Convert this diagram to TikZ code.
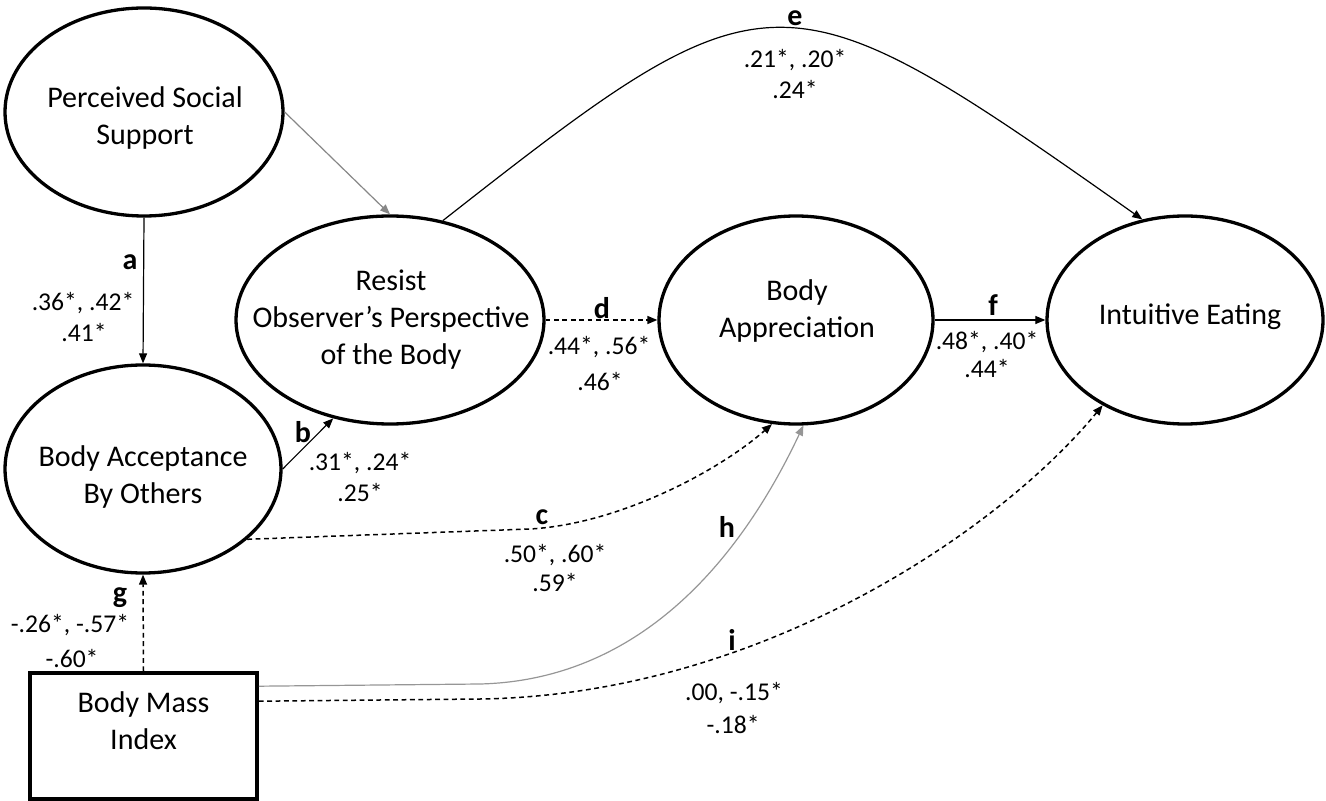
\documentclass[tikz,border=0pt]{standalone}
\usepackage{fontspec}
\setmainfont{Carlito}
\usetikzlibrary{arrows.meta,shapes.geometric}
\newcommand\myNodeFont{\fontsize{15pt}{18.5pt}\selectfont}
\newcommand\myNumFont{\fontsize{12.8pt}{15pt}\selectfont}
\newcommand\myLetFont{\fontsize{15pt}{16pt}\selectfont\bfseries}
\definecolor{grayA}{RGB}{135,135,135}
\definecolor{grayB}{RGB}{150,150,150}
\begin{document}
\begin{tikzpicture}[x=0.5pt,y=-0.5pt,
  lat/.style={ellipse,draw,line width=1.65pt,inner sep=0pt,minimum height=104pt},
  obs/.style={rectangle,draw,line width=1.8pt,inner sep=0pt,minimum width=113.5pt,minimum height=63pt},
  txt/.style={inner sep=0pt,align=center,font=\myNodeFont},
  num/.style={inner sep=0pt,font=\myNumFont},
  let/.style={inner sep=0pt,font=\myLetFont},
  arr/.style={-{Triangle[length=5pt,width=4pt]},line width=0.6pt},
  dsh/.style={line width=0.75pt,dash pattern=on 2.4pt off 1.8pt}]
\useasboundingbox (0,0) rectangle (1326,801);

% latent variables
\node[lat,minimum width=139pt] (pss) at (144,112) {};
\node[lat,minimum width=154pt] (resist) at (390,320) {};
\node[lat,minimum width=138pt] (bao) at (143,469) {};
\node[lat,minimum width=137pt] (ba) at (796,320) {};
\node[lat,minimum width=138pt] (ie) at (1185,320) {};
\node[obs] (bmi) at (143.5,736) {};

% texts
\node[txt] (psst) at (145,118) {Perceived Social\\Support};
\node[txt] (resistt) at (391,320) {Resist\\Observer’s Perspective\\of the Body};
\node[txt] (baot) at (143,477) {Body Acceptance\\By Others};
\node[txt] (bat) at (797,311) {Body\\Appreciation};
\node[txt] (iet) at (1190,317) {Intuitive Eating};
\node[txt] (bmit) at (143.5,721) {Body Mass\\Index};

% connectors
\draw[arr,grayA] (pss.east) -- (resist.north);
\draw[arr] (pss.south) -- (bao.north);
\draw[arr] (bao.east) -- (resist.240);
\draw[arr,dsh] (bao.-34) -- (530,529) .. controls (620,524) and (720,470) .. (ba.257);
\draw[arr,dsh] (resist.east) -- (ba.west);
\draw[arr] (resist.62) .. controls (770,-36) and (780,-36) .. (ie.113);
\draw[arr] (ba.east) -- (ie.west);
\draw[arr,dsh] (bmi.north) -- (bao.south);
\draw[arr,grayB] ([yshift=-7.5pt]bmi.north east) -- (480,684) .. controls (640,680) and (740,560) .. (ba.274);
\draw[arr,dsh] ([yshift=-15pt]bmi.north east) -- (480,699) .. controls (760,695) and (1000,530) .. (ie.226);

% path labels
\node[let] (la) at (130,262) {a};
\node[num] (na1) at (83,303) {.36*, .42*};
\node[num] (na2) at (84,333) {.41*};
\node[let] (lb) at (303,432) {b};
\node[num] (nb1) at (360,463) {.31*, .24*};
\node[num] (nb2) at (360,493) {.25*};
\node[let] (lc) at (542,517) {c};
\node[num] (nc1) at (555,555) {.50*, .60*};
\node[num] (nc2) at (555,583) {.59*};
\node[let] (ld) at (602,308) {d};
\node[num] (nd1) at (599,347) {.44*, .56*};
\node[num] (nd2) at (600,382) {.46*};
\node[let] (le) at (795,18) {e};
\node[num] (ne1) at (795,60) {.21*, .20*};
\node[num] (ne2) at (795,90) {.24*};
\node[let] (lf) at (993,305) {f};
\node[num] (nf1) at (987,342) {.48*, .40*};
\node[num] (nf2) at (987,369) {.44*};
\node[let] (lg) at (120,598) {g};
\node[num] (ng1) at (70,625) {-.26*, -.57*};
\node[num] (ng2) at (72,659) {-.60*};
\node[let] (lh) at (727,527) {h};
\node[let] (li) at (732,640) {i};
\node[num] (ni1) at (734,693) {.00, -.15*};
\node[num] (ni2) at (733,725) {-.18*};
\end{tikzpicture}
\end{document}
